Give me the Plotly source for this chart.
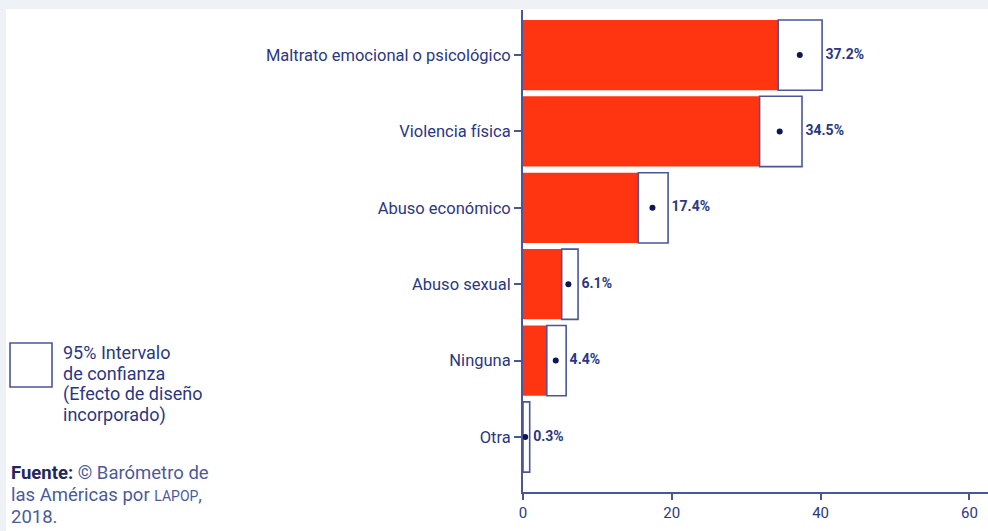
import plotly.graph_objects as go

categories = ["Maltrato emocional o psicológico", "Violencia física", "Abuso económico",
              "Abuso sexual", "Ninguna", "Otra"]
values = [37.2, 34.5, 17.4, 6.1, 4.4, 0.3]
ci_low = [34.3, 31.8, 15.5, 5.2, 3.2, 0.0]
ci_high = [40.2, 37.5, 19.5, 7.4, 5.8, 0.9]
labels = ["37.2%", "34.5%", "17.4%", "6.1%", "4.4%", "0.3%"]
x_ticks = [0, 20, 40, 60]
legend_lines = ["95% Intervalo", "de confianza", "(Efecto de diseño", "incorporado)"]
source_lines = ["<b style='color:#1F2660'>Fuente:</b> © Barómetro de",
                "las Américas por <span style='font-size:14px'>LAPOP</span>,",
                "2018."]

W, H = 988, 531
RED = "#FF3512"
NAVY = "#2B3784"
AXIS = "#4A569C"
DOT = "#0E1654"
FONT = "Roboto"

def px(x):
    return x / W

def py(y):
    return 1 - y / H

fig = go.Figure()
fig.add_trace(go.Bar(
    y=categories, x=ci_low, base=0, orientation="h",
    marker=dict(color=RED, line=dict(width=0)), width=0.92,
    hoverinfo="skip", showlegend=False))
fig.add_trace(go.Bar(
    y=categories, x=[h - l for l, h in zip(ci_low, ci_high)], base=ci_low,
    orientation="h", width=0.92,
    marker=dict(color="white", line=dict(color=AXIS, width=1.6)),
    hoverinfo="skip", showlegend=False))
fig.add_trace(go.Scatter(
    y=categories, x=values, mode="markers",
    marker=dict(color=DOT, size=6), hoverinfo="skip", showlegend=False))
fig.add_trace(go.Scatter(
    y=categories, x=ci_high, mode="text", text=[" " + t for t in labels],
    textposition="middle right",
    textfont=dict(family=FONT, size=14, color=NAVY, weight="bold"),
    hoverinfo="skip", showlegend=False))

annotations = []
for i, line in enumerate(legend_lines):
    annotations.append(dict(xref="paper", yref="paper", x=px(61), y=py(352 + 21 * i),
                            xanchor="left", yanchor="middle", align="left",
                            showarrow=False, text=line,
                            font=dict(family=FONT, size=18, color=NAVY)))
for i, line in enumerate(source_lines):
    annotations.append(dict(xref="paper", yref="paper", x=px(9), y=py(473 + 22 * i),
                            xanchor="left", yanchor="middle", align="left",
                            showarrow=False, text=line,
                            font=dict(family=FONT, size=18.5, color="#4B5A9E")))

fig.update_layout(
    width=W, height=H,
    margin=dict(l=0, r=0, t=0, b=0),
    paper_bgcolor="#eef1f5",
    plot_bgcolor="rgba(0,0,0,0)",
    barmode="overlay",
    font=dict(family=FONT, color=NAVY),
    xaxis=dict(domain=[px(523), 1], range=[0, 62.5], tickvals=x_ticks,
               showgrid=False, zeroline=False, showline=True, linecolor=AXIS,
               linewidth=2, ticks="outside", ticklen=6, tickcolor=AXIS,
               tickwidth=2, tickfont=dict(family=FONT, size=15, color=NAVY),
               automargin=False, fixedrange=True),
    yaxis=dict(domain=[1 - 492 / H, 1 - 10 / H], categoryorder="array",
               categoryarray=categories, range=[5.72, -0.59],
               showgrid=False, zeroline=False, showline=True, linecolor=AXIS,
               linewidth=2, ticks="outside", ticklen=7, tickcolor=AXIS,
               tickwidth=1.5, tickfont=dict(family=FONT, size=16.5, color=NAVY),
               automargin=False, fixedrange=True),
    shapes=[
        dict(type="rect", xref="paper", yref="paper", x0=px(6), x1=1,
             y0=0, y1=py(9), fillcolor="white", line=dict(width=0), layer="below"),
        dict(type="rect", xref="paper", yref="paper", x0=px(10), x1=px(52),
             y0=py(387), y1=py(343), fillcolor="white",
             line=dict(color=AXIS, width=1.6)),
    ],
    annotations=annotations,
)

fig.write_html("out.html", config={"displayModeBar": False},
               post_script="document.body.style.margin='0';")
